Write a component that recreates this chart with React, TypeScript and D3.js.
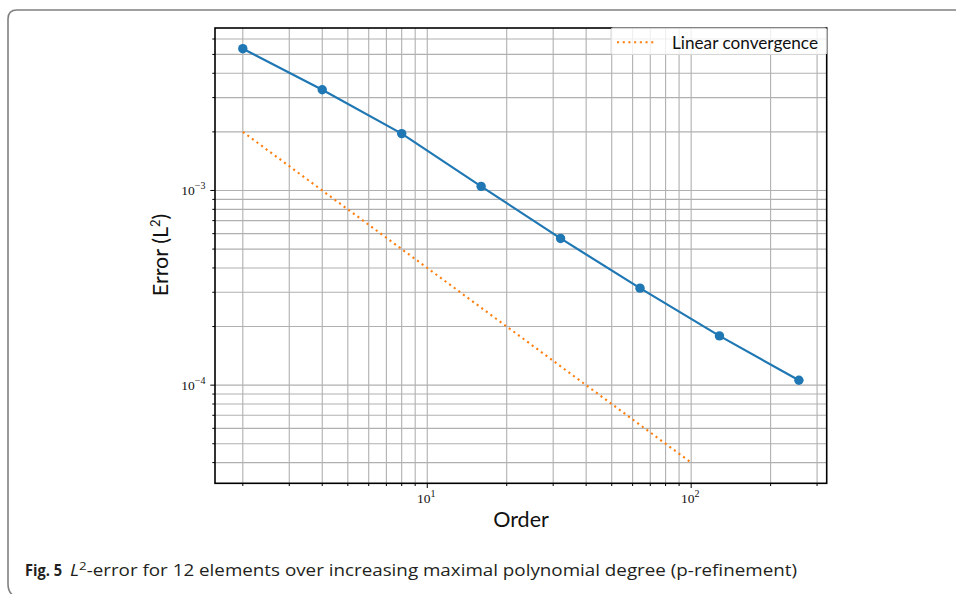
import React, { useEffect, useRef } from "react";
import * as d3 from "d3";

// Polynomial order (maximal degree) used for each run
const orders = [2, 4, 8, 16, 32, 64, 128, 256];
// L2 error obtained for each order
const errors = [5.35e-3, 3.29e-3, 1.96e-3, 1.05e-3, 5.67e-4, 3.15e-4, 1.79e-4, 1.06e-4];
// Reference line with slope -1 (linear convergence)
const refOrders = [2, 100];
const refErrors = [2e-3, 4e-5];

const xMajorTicks = [10, 100];
const xMajorLabels = ["1", "2"];
const yMajorTicks = [1e-3, 1e-4];
const yMajorLabels = ["\u22123", "\u22124"];

const legendLabel = "Linear convergence";
const xLabel = "Order";
const yLabel = "Error (L";
const captionBold = "Fig. 5";
const captionRest = "-error for 12 elements over increasing maximal polynomial degree (p-refinement)";

const W = 956;
const H = 594;
const plot = { left: 215, right: 826.7, top: 28, bottom: 483.3 };

const BLUE = "#1f77b4";
const ORANGE = "#ff7f0e";
const GRID = "#b0b0b0";

function logDomain(vals: number[], pad = 0.05): [number, number] {
  const lo = Math.log10(d3.min(vals)!);
  const hi = Math.log10(d3.max(vals)!);
  const m = (hi - lo) * pad;
  return [Math.pow(10, lo - m), Math.pow(10, hi + m)];
}

function minorTicks(domain: [number, number]): number[] {
  const out: number[] = [];
  const e0 = Math.floor(Math.log10(domain[0]));
  const e1 = Math.ceil(Math.log10(domain[1]));
  for (let e = e0; e <= e1; e++) {
    for (let k = 1; k <= 9; k++) {
      const v = k * Math.pow(10, e);
      if (v >= domain[0] && v <= domain[1]) out.push(v);
    }
  }
  return out;
}

export default function App() {
  const ref = useRef<SVGSVGElement>(null);

  useEffect(() => {
    const svg = d3.select(ref.current);
    svg.selectAll("*").remove();

    const xDom = logDomain(orders);
    const yDom = logDomain([...errors, ...refErrors]);
    const x = d3.scaleLog().domain(xDom).range([plot.left, plot.right]);
    const y = d3.scaleLog().domain(yDom).range([plot.bottom, plot.top]);

    // page frame
    svg
      .append("path")
      .attr("d", `M${W + 2},10 H17 Q8,10 8,19 V584 Q8,594 17,598`)
      .attr("fill", "none")
      .attr("stroke", "#808080")
      .attr("stroke-width", 1.6);

    const xTicksAll = minorTicks(xDom);
    const yTicksAll = minorTicks(yDom);

    // grid (major + minor)
    const g = svg.append("g");
    g.selectAll("line.vx")
      .data(xTicksAll)
      .join("line")
      .attr("x1", (d) => x(d))
      .attr("x2", (d) => x(d))
      .attr("y1", plot.top)
      .attr("y2", plot.bottom)
      .attr("stroke", GRID)
      .attr("stroke-width", 1.1);
    g.selectAll("line.hy")
      .data(yTicksAll)
      .join("line")
      .attr("x1", plot.left)
      .attr("x2", plot.right)
      .attr("y1", (d) => y(d))
      .attr("y2", (d) => y(d))
      .attr("stroke", GRID)
      .attr("stroke-width", 1.1);

    // reference line
    const line = d3
      .line<[number, number]>()
      .x((d) => x(d[0]))
      .y((d) => y(d[1]));
    svg
      .append("path")
      .attr("d", line(refOrders.map((o, i) => [o, refErrors[i]]))!)
      .attr("fill", "none")
      .attr("stroke", ORANGE)
      .attr("stroke-width", 2.1)
      .attr("stroke-dasharray", "2.1 3.6");

    // error curve
    svg
      .append("path")
      .attr("d", line(orders.map((o, i) => [o, errors[i]]))!)
      .attr("fill", "none")
      .attr("stroke", BLUE)
      .attr("stroke-width", 2.2);
    svg
      .selectAll("circle.pt")
      .data(orders)
      .join("circle")
      .attr("cx", (d) => x(d))
      .attr("cy", (d, i) => y(errors[i]))
      .attr("r", 4.7)
      .attr("fill", BLUE);

    // ticks
    const isMajor = (v: number) => Math.abs(Math.log10(v) - Math.round(Math.log10(v))) < 1e-9;
    svg
      .selectAll("line.xt")
      .data(xTicksAll)
      .join("line")
      .attr("x1", (d) => x(d))
      .attr("x2", (d) => x(d))
      .attr("y1", plot.bottom)
      .attr("y2", (d) => plot.bottom + (isMajor(d) ? 4.7 : 2.7))
      .attr("stroke", "#000")
      .attr("stroke-width", 1);
    svg
      .selectAll("line.yt")
      .data(yTicksAll)
      .join("line")
      .attr("x1", (d) => plot.left - (isMajor(d) ? 4.7 : 2.7))
      .attr("x2", plot.left)
      .attr("y1", (d) => y(d))
      .attr("y2", (d) => y(d))
      .attr("stroke", "#000")
      .attr("stroke-width", 1);

    const serif = "'Liberation Serif', 'DejaVu Serif', serif";
    xMajorTicks.forEach((v, i) => {
      const t = svg
        .append("text")
        .attr("x", x(v) - 1)
        .attr("y", plot.bottom + 19.5)
        .attr("text-anchor", "middle")
        .attr("font-family", serif)
        .attr("font-size", 13.5)
        .attr("fill", "#111");
      t.append("tspan").text("10");
      t.append("tspan").attr("dy", -5.5).attr("font-size", 10).text(xMajorLabels[i]);
    });
    yMajorTicks.forEach((v, i) => {
      const t = svg
        .append("text")
        .attr("x", plot.left - 9.5)
        .attr("y", y(v) + 4.5)
        .attr("text-anchor", "end")
        .attr("font-family", serif)
        .attr("font-size", 13.5)
        .attr("fill", "#111");
      t.append("tspan").text("10");
      t.append("tspan").attr("dy", -5.5).attr("font-size", 10).text(yMajorLabels[i]);
    });

    // axes frame
    svg
      .append("rect")
      .attr("x", plot.left)
      .attr("y", plot.top)
      .attr("width", plot.right - plot.left)
      .attr("height", plot.bottom - plot.top)
      .attr("fill", "none")
      .attr("stroke", "#000")
      .attr("stroke-width", 1.6);

    // legend
    const lg = svg.append("g");
    lg.append("rect")
      .attr("x", 611)
      .attr("y", plot.top)
      .attr("width", plot.right - 611)
      .attr("height", 26.5)
      .attr("rx", 2)
      .attr("fill", "#fff")
      .attr("fill-opacity", 0.8)
      .attr("stroke", "#d6d6d6")
      .attr("stroke-width", 1);
    lg.append("line")
      .attr("x1", 617)
      .attr("x2", 656)
      .attr("y1", 42.3)
      .attr("y2", 42.3)
      .attr("stroke", ORANGE)
      .attr("stroke-width", 2.1)
      .attr("stroke-dasharray", "2.1 3.6");
    lg.append("text")
      .attr("x", 672)
      .attr("y", 49.3)
      .attr("font-family", "Lato, 'Noto Sans', sans-serif")
      .attr("font-size", 17.5)
      .attr("textLength", 146)
      .attr("lengthAdjust", "spacingAndGlyphs")
      .attr("fill", "#111")
      .text(legendLabel);

    // axis labels
    const sans = "Lato, 'Noto Sans', sans-serif";
    svg
      .append("text")
      .attr("x", 521)
      .attr("y", 527)
      .attr("text-anchor", "middle")
      .attr("font-family", sans)
      .attr("font-size", 21.5)
      .attr("fill", "#111")
      .text(xLabel);
    const yl = svg
      .append("text")
      .attr("transform", `translate(168,255) rotate(-90)`)
      .attr("text-anchor", "middle")
      .attr("font-family", sans)
      .attr("font-size", 21.5)
      .attr("fill", "#111");
    yl.append("tspan").text(yLabel);
    yl.append("tspan").attr("dy", -8).attr("font-size", 13).text("2");
    yl.append("tspan").attr("dy", 8).text(")");

    // caption
    const capFont = "'Open Sans', 'Noto Sans', sans-serif";
    svg
      .append("text")
      .attr("x", 25)
      .attr("y", 575.5)
      .attr("font-family", capFont)
      .attr("font-weight", "bold")
      .attr("font-size", 15.5)
      .attr("textLength", 37)
      .attr("lengthAdjust", "spacingAndGlyphs")
      .attr("fill", "#231f20")
      .text(captionBold);
    const cap = svg
      .append("text")
      .attr("x", 70)
      .attr("y", 575.5)
      .attr("font-family", capFont)
      .attr("font-size", 15.5)
      .attr("textLength", 727)
      .attr("lengthAdjust", "spacingAndGlyphs")
      .attr("fill", "#231f20");
    cap.append("tspan").attr("font-style", "italic").text("L");
    cap.append("tspan").attr("dy", -6).attr("font-size", 11).text("2");
    cap.append("tspan").attr("dy", 6).text(captionRest);
  }, []);

  return (
    <svg
      ref={ref}
      width={W}
      height={H}
      style={{ position: "absolute", left: 0, top: 0, background: "#fff" }}
    />
  );
}
